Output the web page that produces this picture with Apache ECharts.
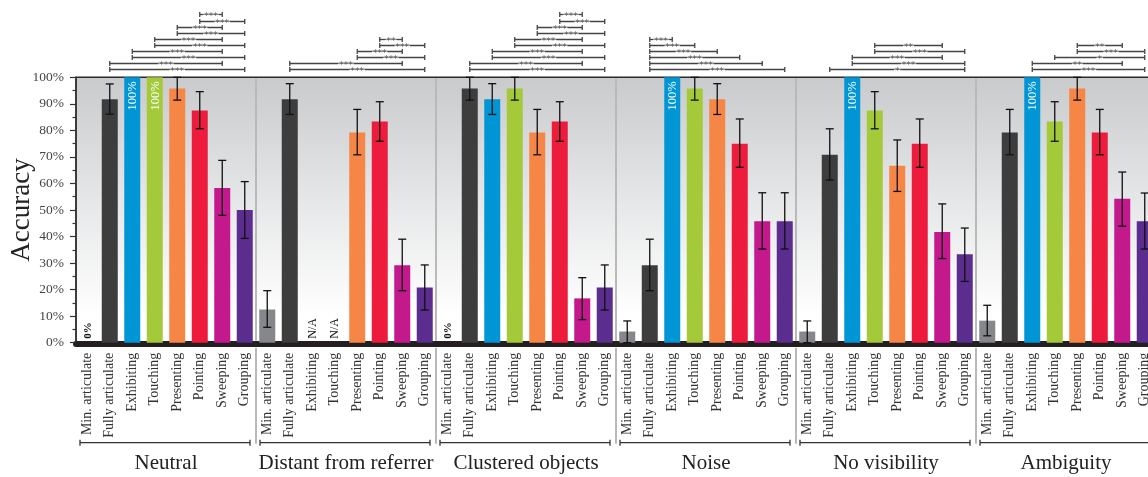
<!DOCTYPE html>
<html><head><meta charset="utf-8">
<script src="https://cdn.jsdelivr.net/npm/echarts@6/dist/echarts.min.js"></script>
<style>html,body{margin:0;padding:0;background:#fff}#c{width:1148px;height:477px}</style>
</head><body><div id="c"></div>
<script>
const groups = ['Neutral', 'Distant from referrer', 'Clustered objects', 'Noise', 'No visibility', 'Ambiguity'];
const gestures = ['Min. articulate', 'Fully articulate', 'Exhibiting', 'Touching', 'Presenting', 'Pointing', 'Sweeping', 'Grouping'];
const gestureColors = ['#85878a', '#3d3d3d', '#0096d6', '#a4c939', '#f58646', '#ed1c3c', '#c4198d', '#5b2d8e'];
const yTicks = [0, 10, 20, 30, 40, 50, 60, 70, 80, 90, 100];

// accuracy (%) per group, in gesture order
const accuracy = [
  [0, 91.7, 100, 100, 95.8, 87.5, 58.3, 50.0],
  [12.5, 91.7, null, null, 79.2, 83.3, 29.2, 20.8],
  [0, 95.8, 91.7, 95.8, 79.2, 83.3, 16.7, 20.8],
  [4.2, 29.2, 100, 95.8, 91.7, 75.0, 45.8, 45.8],
  [4.2, 70.8, 100, 87.5, 66.7, 75.0, 41.7, 33.3],
  [8.3, 79.2, 100, 83.3, 95.8, 79.2, 54.2, 45.8]
];
const ciLow = [
  [null, 86.1, null, null, 91.4, 80.6, 48.0, 39.3],
  [5.8, 86.0, null, null, 70.8, 75.9, 19.6, 12.3],
  [null, 91.4, 86.0, 91.4, 70.8, 75.9, 8.7, 12.3],
  [0, 19.6, null, 91.4, 86.0, 66.1, 35.3, 35.3],
  [0, 61.3, null, 80.6, 57.0, 66.1, 31.7, 23.1],
  [2.6, 70.8, null, 75.9, 91.4, 70.8, 43.9, 35.3]
];
const ciHigh = [
  [null, 97.5, null, null, 100, 94.6, 68.7, 60.7],
  [19.6, 97.6, null, null, 87.9, 90.8, 39.0, 29.3],
  [null, 100, 97.6, 100, 87.9, 90.8, 24.5, 29.3],
  [8.2, 39.0, null, 100, 97.6, 84.3, 56.5, 56.5],
  [8.2, 80.6, null, 94.6, 76.4, 84.3, 52.3, 43.2],
  [14.1, 87.9, null, 90.8, 100, 87.9, 64.3, 56.4]
];
const notes = [
  ['0%', '', '', '', '', '', '', ''],
  ['', '', 'N/A', 'N/A', '', '', '', ''],
  ['0%', '', '', '', '', '', '', ''],
  ['', '', '', '', '', '', '', ''],
  ['', '', '', '', '', '', '', ''],
  ['', '', '', '', '', '', '', '']
];
// [group, from gesture, to gesture, row (1 = top), significance]
const brackets = [
  [0,5,6,1,'***'],[0,5,7,2,'***'],[0,4,6,3,'***'],[0,4,7,4,'***'],[0,3,6,5,'***'],
  [0,3,7,6,'***'],[0,2,6,7,'***'],[0,2,7,8,'***'],[0,1,6,9,'***'],[0,1,7,10,'***'],
  [1,5,6,5,'**'],[1,5,7,6,'***'],[1,4,6,7,'***'],[1,4,7,8,'***'],[1,1,6,9,'***'],[1,1,7,10,'***'],
  [2,5,6,1,'***'],[2,5,7,2,'***'],[2,4,6,3,'***'],[2,4,7,4,'***'],[2,3,6,5,'***'],
  [2,3,7,6,'***'],[2,2,6,7,'***'],[2,2,7,8,'***'],[2,1,6,9,'***'],[2,1,7,10,'***'],
  [3,1,2,5,'***'],[3,1,3,6,'***'],[3,1,4,7,'***'],[3,1,5,8,'***'],[3,1,6,9,'***'],[3,1,7,10,'***'],
  [4,3,6,6,'**'],[4,3,7,7,'***'],[4,2,6,8,'***'],[4,2,7,9,'***'],[4,1,7,10,'*'],
  [5,4,6,6,'**'],[5,4,7,7,'***'],[5,3,7,8,'*'],[5,2,6,9,'**'],[5,2,7,10,'***']
];

const SERIF = 'Liberation Serif';
const N = gestures.length;
const cats = [], barData = [], errData = [], noteData = [];
groups.forEach((g, gi) => gestures.forEach((name, k) => {
  const i = gi * N + k;
  cats.push(name);
  const v = accuracy[gi][k];
  barData.push({ value: v == null ? '-' : v, itemStyle: { color: gestureColors[k] } });
  if (ciLow[gi][k] != null) errData.push([i, ciLow[gi][k], ciHigh[gi][k]]);
  const note = notes[gi][k] || (v === 100 ? '100%' : '');
  if (note) noteData.push([i, v == null ? 0 : v, note]);
}));

const chart = echarts.init(document.getElementById('c'));
chart.setOption({
  animation: false,
  grid: {
    left: 76, top: 77.3, width: 1080, height: 265.4,
    outerBoundsMode: 'none', containLabel: false,
    show: true, borderColor: '#2a2a2a', borderWidth: 1.5,
    backgroundColor: new echarts.graphic.LinearGradient(0, 0, 0, 1, [
      { offset: 0, color: '#c9cacc' }, { offset: 0.45, color: '#e5e6e7' }, { offset: 0.9, color: '#ffffff' }, { offset: 1, color: '#ffffff' }
    ])
  },
  xAxis: [{
    type: 'category', data: cats, offset: 1,
    axisLine: { show: true, onZero: false, lineStyle: { color: '#231f20', width: 6 } },
    axisTick: { show: false },
    axisLabel: { rotate: 90, interval: 0, margin: 9, fontFamily: SERIF, fontSize: 14, color: '#333' }
  }, {
    type: 'category', data: groups, position: 'bottom',
    axisLine: { show: false }, axisTick: { show: false }, splitLine: { show: false },
    axisLabel: { interval: 0, margin: 110, fontFamily: SERIF, fontSize: 21, color: '#222' }
  }],
  yAxis: {
    type: 'value', min: yTicks[0], max: yTicks[yTicks.length - 1], interval: yTicks[1] - yTicks[0],
    name: 'Accuracy', nameLocation: 'middle', nameGap: 41, nameMoveOverlap: false,
    nameTextStyle: { fontFamily: SERIF, fontSize: 27, color: '#222' },
    axisLine: { show: true, lineStyle: { color: '#333', width: 1.5 } },
    axisTick: { show: true, length: 6, lineStyle: { color: '#333', width: 1.2 } },
    minorTick: { show: true, splitNumber: 2, length: 3.5, lineStyle: { color: '#333', width: 1.2 } },
    splitLine: { show: false },
    axisLabel: { formatter: '{value}%', margin: 12, fontFamily: SERIF, fontSize: 13.5, color: '#444' }
  },
  series: [{
    type: 'bar', data: barData, barWidth: 16, z: 2
  }, {
    type: 'custom', data: errData, z: 4, clip: false,
    renderItem(params, api) {
      const x = api.value(0);
      const lo = api.coord([x, api.value(1)]);
      const hi = api.coord([x, api.value(2)]);
      const st = { stroke: '#111', lineWidth: 1.3 };
      return { type: 'group', children: [
        { type: 'line', shape: { x1: lo[0], y1: lo[1], x2: hi[0], y2: hi[1] }, style: st },
        { type: 'line', shape: { x1: hi[0] - 4, y1: hi[1], x2: hi[0] + 4, y2: hi[1] }, style: st },
        { type: 'line', shape: { x1: lo[0] - 4, y1: lo[1], x2: lo[0] + 4, y2: lo[1] }, style: st }
      ] };
    }
  }, {
    type: 'custom', data: noteData, z: 5, clip: false,
    renderItem(params, api) {
      const d = noteData[params.dataIndex];
      const is100 = d[2] === '100%';
      const p = api.coord([d[0], is100 ? d[1] : 0]);
      return {
        type: 'text', x: p[0] + 0.5, y: is100 ? p[1] + 4 : p[1] - 4, rotation: Math.PI / 2,
        style: {
          text: d[2], fill: is100 ? '#ffffff' : '#111',
          fontFamily: SERIF, fontSize: is100 ? 12.5 : (d[2] === '0%' ? 11 : 12),
          fontWeight: d[2] === '0%' ? 'bold' : 'normal',
          align: is100 ? 'right' : 'left', verticalAlign: 'middle'
        }
      };
    }
  }, {
    type: 'custom', data: brackets.map(b => [b[0] * N + b[1], 100, b[0] * N + b[2], b[3]]), z: 5, clip: false,
    renderItem(params, api) {
      const b = brackets[params.dataIndex];
      const x1 = api.coord([b[0] * N + b[1], 100])[0];
      const x2 = api.coord([b[0] * N + b[2], 100])[0];
      const yTop = api.coord([0, 100])[1];
      const y = Math.round(yTop - 8 - (10 - b[3]) * 6.1) + 0.5;
      const st = { stroke: '#444', lineWidth: 1.3 };
      return { type: 'group', children: [
        { type: 'line', shape: { x1, y1: y, x2, y2: y }, style: st },
        { type: 'line', shape: { x1, y1: y - 2.5, x2: x1, y2: y + 2.5 }, style: st },
        { type: 'line', shape: { x1: x2, y1: y - 2.5, x2, y2: y + 2.5 }, style: st },
        { type: 'text', x: (x1 + x2) / 2, y: y + 2.5, style: {
          text: b[4], fill: '#555', fontFamily: 'DejaVu Sans', fontSize: 9,
          align: 'center', verticalAlign: 'middle', backgroundColor: '#fff', padding: [-1, 1, -3, 1]
        } }
      ] };
    }
  }, {
    type: 'custom', data: groups.map((g, gi) => [gi * N, 0]), z: 3, clip: false,
    renderItem(params, api) {
      const gi = params.dataIndex;
      const c0 = api.coord([gi * N, 0]);
      const w = api.coord([gi * N + 1, 0])[0] - c0[0];
      const xs = c0[0] - w / 2;
      const xe = api.coord([gi * N + N - 1, 0])[0] + w / 2;
      const yb = c0[1];
      const yTop = api.coord([0, 100])[1];
      const yBr = yb + 100;
      const st = { stroke: '#333', lineWidth: 1.3 };
      const sep = { stroke: '#b9b9b9', lineWidth: 2 };
      const children = [
        { type: 'line', shape: { x1: xs + 4, y1: yBr, x2: xe - 6, y2: yBr }, style: st },
        { type: 'line', shape: { x1: xs + 4, y1: yBr - 3, x2: xs + 4, y2: yBr + 3 }, style: st },
        { type: 'line', shape: { x1: xe - 6, y1: yBr - 3, x2: xe - 6, y2: yBr + 3 }, style: st }
      ];
      if (gi > 0) {
        children.push({ type: 'line', shape: { x1: xs, y1: yTop + 1, x2: xs, y2: yb - 2 }, style: sep });
        children.push({ type: 'line', shape: { x1: xs, y1: yb + 5, x2: xs, y2: yBr + 1 }, style: sep });
      }
      return { type: 'group', children };
    }
  }]
});
</script>
</body></html>
